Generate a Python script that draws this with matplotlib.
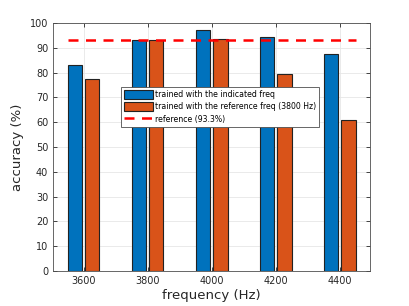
import matplotlib.pyplot as plt
import numpy as np

freqs = [3600, 3800, 4000, 4200, 4400]
acc_indicated = [83.2, 93.3, 97.3, 94.3, 87.3]
acc_reference = [77.6, 93.3, 93.6, 79.3, 60.7]
ref_value = 93.3
ref_span = [3550, 4450]

blue = '#0072BD'
orange = '#D95319'
txt = '#262626'

fig = plt.figure(figsize=(4.09, 3.06), dpi=100)
ax = fig.add_axes([0.13, 0.114, 0.775, 0.811])

x = np.array(freqs)
w = 45
b1 = ax.bar(x - 27, acc_indicated, w, color=blue, edgecolor='#222222', linewidth=0.8,
            label='trained with the indicated freq', zorder=3)
b2 = ax.bar(x + 27, acc_reference, w, color=orange, edgecolor='#222222', linewidth=0.8,
            label='trained with the reference freq (3800 Hz)', zorder=3)
ln, = ax.plot(ref_span, [ref_value, ref_value], '--', color='red', linewidth=1.8,
              dashes=(4, 3), label='reference (93.3%)', zorder=4)

ax.set_xlim(3505, 4495)
ax.set_ylim(0, 100)
ax.set_xticks(freqs)
ax.set_yticks(np.arange(0, 101, 10))
ax.tick_params(labelsize=7, colors=txt, direction='in', length=3,
               top=True, right=True, width=0.6)
ax.grid(True, color='#e6e6e6', linewidth=0.6, zorder=0)
for s in ax.spines.values():
    s.set_color('#4d4d4d')
    s.set_linewidth(0.6)

ax.set_xlabel('frequency (Hz)', fontsize=9.5, color=txt, labelpad=2)
ax.set_ylabel('accuracy (%)', fontsize=9.5, color=txt, labelpad=4)

leg = ax.legend([b1, b2, ln], [b1.get_label(), b2.get_label(), ln.get_label()],
                loc='upper left', bbox_to_anchor=(0.215, 0.742), fontsize=5.6,
                handlelength=3.7, handleheight=1.4, handletextpad=0.25,
                borderpad=0.4, labelspacing=0.4, fancybox=False,
                framealpha=1, edgecolor='#4d4d4d', borderaxespad=0)
leg.get_frame().set_linewidth(0.6)

fig.savefig('out.png', dpi=100)
